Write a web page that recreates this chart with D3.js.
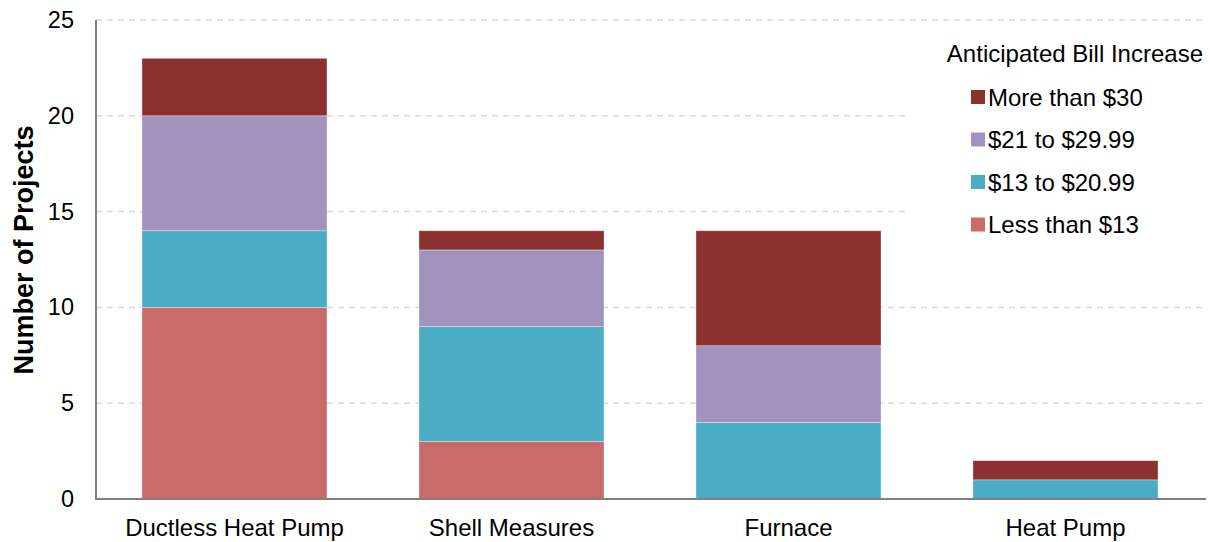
<!DOCTYPE html>
<html>
<head>
<meta charset="utf-8">
<script src="https://cdn.jsdelivr.net/npm/d3@7"></script>
<style>
  body { margin: 0; background: #fff; }
  svg text { font-family: "Liberation Sans", Arial, sans-serif; fill: #000; }
</style>
</head>
<body>
<div id="vis-display" style="width:1210px;height:542px;"></div>
<script>
// Stacked bars: projects by measure type, split by anticipated bill increase.

const CATEGORIES = ["Ductless Heat Pump", "Shell Measures", "Furnace", "Heat Pump"];

const SERIES = [
  { key: "lt13",  label: "Less than $13",   color: "#C96B68" },
  { key: "b13",   label: "$13 to $20.99",   color: "#4BACC6" },
  { key: "b21",   label: "$21 to $29.99",   color: "#A391BE" },
  { key: "gt30",  label: "More than $30",   color: "#8B3130" },
];

const LESS_THAN_13 = [10, 3, 0, 0];
const FROM_13      = [4, 6, 4, 1];
const FROM_21      = [6, 4, 4, 0];
const MORE_THAN_30 = [3, 1, 6, 1];

const Y_TICKS = [0, 5, 10, 15, 20, 25];

const rows = CATEGORIES.map((c, i) => ({
  category: c,
  lt13: LESS_THAN_13[i],
  b13:  FROM_13[i],
  b21:  FROM_21[i],
  gt30: MORE_THAN_30[i],
}));

const W = 1210, H = 542;
const margin = { top: 20, right: 6, bottom: 43, left: 96 };
const innerW = 1204 - margin.left;
const innerH = H - margin.top - margin.bottom;

const svg = d3.select("#vis-display").append("svg")
  .attr("width", W).attr("height", H);

const g = svg.append("g")
  .attr("transform", `translate(${margin.left},${margin.top})`);

// ── Scales ────────────────────────────────────────────────────────────────
const x = d3.scaleBand().domain(CATEGORIES).range([0, innerW]).paddingInner(0.332).paddingOuter(0.166);
const y = d3.scaleLinear().domain([0, 25]).range([innerH, 0]);

// ── Grid ──────────────────────────────────────────────────────────────────
g.append("g")
  .selectAll("line")
  .data(Y_TICKS.filter(d => d > 0))
  .join("line")
    .attr("x1", 0).attr("x2", innerW + 2)
    .attr("y1", d => y(d)).attr("y2", d => y(d))
    .attr("stroke", "#d9d9d9").attr("stroke-width", 1.5)
    .attr("stroke-dasharray", "6,5");

// ── Bars ──────────────────────────────────────────────────────────────────
const stacked = d3.stack().keys(SERIES.map(s => s.key))(rows);
const colorOf = Object.fromEntries(SERIES.map(s => [s.key, s.color]));

g.append("g")
  .selectAll("g")
  .data(stacked)
  .join("g")
    .attr("fill", d => colorOf[d.key])
  .selectAll("rect")
  .data(d => d.filter(v => v[1] - v[0] > 0))
  .join("rect")
    .attr("x", d => x(d.data.category))
    .attr("width", x.bandwidth())
    .attr("y", d => y(d[1]))
    .attr("height", d => y(d[0]) - y(d[1]))
    .attr("stroke", "rgba(255,255,255,0.45)")
    .attr("stroke-width", 0.75);

// ── Axes ──────────────────────────────────────────────────────────────────
g.append("line")
  .attr("x1", 0).attr("x2", 0).attr("y1", 0).attr("y2", innerH)
  .attr("stroke", "#808080").attr("stroke-width", 2);
g.append("line")
  .attr("x1", -1).attr("x2", innerW + 2).attr("y1", innerH).attr("y2", innerH)
  .attr("stroke", "#808080").attr("stroke-width", 2);

g.append("g")
  .call(d3.axisLeft(y).tickValues(Y_TICKS).tickSize(0).tickPadding(22))
  .call(ax => ax.select(".domain").remove())
  .selectAll("text")
    .style("font-size", "23.5px");

g.append("g")
  .attr("transform", `translate(0,${innerH})`)
  .call(d3.axisBottom(x).tickSize(0).tickPadding(20))
  .call(ax => ax.select(".domain").remove())
  .selectAll("text")
    .style("font-size", "24px");

svg.append("text")
  .attr("transform", `translate(33,250) rotate(-90)`)
  .attr("text-anchor", "middle")
  .style("font-size", "27px")
  .style("font-weight", "bold")
  .text("Number of Projects");

// ── Legend ────────────────────────────────────────────────────────────────
const legend = svg.append("g");
legend.append("rect")
  .attr("x", 906).attr("y", 34).attr("width", 304).attr("height", 212)
  .attr("fill", "#fff");
legend.append("text")
  .attr("x", 1203).attr("y", 62)
  .attr("text-anchor", "end")
  .style("font-size", "24px")
  .text("Anticipated Bill Increase");

const items = SERIES.slice().reverse();
const li = legend.selectAll("g.item")
  .data(items)
  .join("g")
    .attr("class", "item")
    .attr("transform", (d, i) => `translate(971,${97 + i * 42.5})`);
li.append("rect")
  .attr("x", 0).attr("y", -7).attr("width", 14).attr("height", 14)
  .attr("fill", d => d.color);
li.append("text")
  .attr("x", 17).attr("y", 8.5)
  .style("font-size", "24px")
  .text(d => d.label);
</script>
</body>
</html>
